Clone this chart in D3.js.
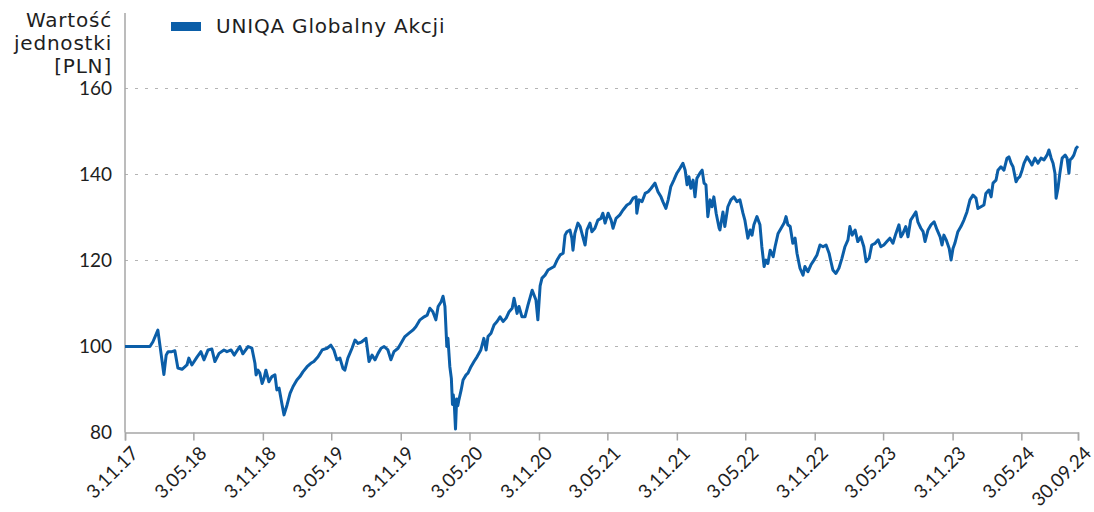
<!DOCTYPE html>
<html><head><meta charset="utf-8">
<script src="https://cdn.jsdelivr.net/npm/d3@7"></script>
<style>
html,body{margin:0;padding:0;background:#fff;}
text{font-family:Lato, "Noto Sans", sans-serif;fill:#1e1e1e;}
.word{font-family:"DejaVu Sans", sans-serif;letter-spacing:0.8px;}
</style></head>
<body><svg id="chart" width="1094" height="512"></svg>
<script>
const seriesName = "UNIQA Globalny Akcji";
const yTitle = ["Wartość", "jednostki", "[PLN]"];
const yTicks = [80, 100, 120, 140, 160];
const xTickDates = ["2017-11-03","2018-05-03","2018-11-03","2019-05-03","2019-11-03","2020-05-03","2020-11-03","2021-05-03","2021-11-03","2022-05-03","2022-11-03","2023-05-03","2023-11-03","2024-05-03","2024-09-30"];
const dates = [
"2017-11-03","2018-01-08","2018-01-16","2018-01-29","2018-02-14","2018-02-20","2018-02-25","2018-03-07","2018-03-15","2018-03-23",
"2018-04-03","2018-04-16","2018-04-21","2018-04-29","2018-05-13","2018-05-23","2018-05-31","2018-06-11","2018-06-21","2018-06-29",
"2018-07-10","2018-07-23","2018-07-31","2018-08-11","2018-08-19","2018-09-03","2018-09-11","2018-09-25","2018-10-05","2018-10-13",
"2018-10-16","2018-10-21","2018-10-26","2018-11-01","2018-11-06","2018-11-11","2018-11-19","2018-11-27","2018-12-05","2018-12-10",
"2018-12-16","2018-12-24","2018-12-29","2019-01-06","2019-01-14","2019-01-22","2019-02-01","2019-02-09","2019-02-17","2019-02-28",
"2019-03-10","2019-03-18","2019-03-29","2019-04-09","2019-04-22","2019-05-02","2019-05-10","2019-05-18","2019-05-26","2019-06-03",
"2019-06-08","2019-06-16","2019-06-27","2019-07-05","2019-07-13","2019-07-23","2019-08-03","2019-08-11","2019-08-19","2019-08-27",
"2019-09-04","2019-09-12","2019-09-20","2019-09-30","2019-10-08","2019-10-16","2019-10-27","2019-11-06","2019-11-14","2019-11-25",
"2019-12-05","2019-12-13","2019-12-24","2020-01-04","2020-01-12","2020-01-19","2020-01-27","2020-02-04","2020-02-10","2020-02-18",
"2020-02-23","2020-02-28","2020-03-04","2020-03-07","2020-03-12","2020-03-16","2020-03-19","2020-03-21","2020-03-24","2020-03-27",
"2020-03-30","2020-04-02","2020-04-05","2020-04-11","2020-04-16","2020-04-24","2020-04-29","2020-05-07","2020-05-15","2020-05-23",
"2020-06-02","2020-06-10","2020-06-16","2020-06-21","2020-06-29","2020-07-07","2020-07-15","2020-07-23","2020-07-31","2020-08-08",
"2020-08-16","2020-08-24","2020-08-29","2020-09-06","2020-09-11","2020-09-19","2020-09-27","2020-10-05","2020-10-16","2020-10-26",
"2020-10-31","2020-11-06","2020-11-11","2020-11-19","2020-11-27","2020-12-05","2020-12-13","2020-12-21","2020-12-29","2021-01-06",
"2021-01-11","2021-01-16","2021-01-24","2021-01-29","2021-02-01","2021-02-06","2021-02-14","2021-02-20","2021-02-28","2021-03-05",
"2021-03-10","2021-03-18","2021-03-23","2021-03-31","2021-04-08","2021-04-16","2021-04-21","2021-04-27","2021-05-05","2021-05-13",
"2021-05-18","2021-05-26","2021-06-05","2021-06-13","2021-06-24","2021-07-02","2021-07-10","2021-07-18","2021-07-20","2021-07-26",
"2021-08-03","2021-08-11","2021-08-19","2021-08-27","2021-09-06","2021-09-14","2021-09-22","2021-09-27","2021-10-05","2021-10-11",
"2021-10-18","2021-10-26","2021-11-03","2021-11-11","2021-11-19","2021-11-25","2021-11-30","2021-12-05","2021-12-10","2021-12-16",
"2021-12-21","2021-12-26","2022-01-03","2022-01-09","2022-01-14","2022-01-19","2022-01-24","2022-01-30","2022-02-04","2022-02-09",
"2022-02-15","2022-02-23","2022-02-25","2022-03-05","2022-03-10","2022-03-18","2022-03-26","2022-04-03","2022-04-11","2022-04-19",
"2022-04-27","2022-05-02","2022-05-10","2022-05-16","2022-05-21","2022-05-26","2022-06-03","2022-06-11","2022-06-16","2022-06-22",
"2022-06-27","2022-07-02","2022-07-08","2022-07-16","2022-07-21","2022-07-29","2022-08-06","2022-08-14","2022-08-19","2022-08-24",
"2022-08-30","2022-09-06","2022-09-12","2022-09-17","2022-09-25","2022-10-03","2022-10-08","2022-10-16","2022-10-24","2022-11-01",
"2022-11-09","2022-11-17","2022-11-25","2022-12-03","2022-12-11","2022-12-16","2022-12-21","2022-12-29","2023-01-06","2023-01-14",
"2023-01-22","2023-01-30","2023-02-04","2023-02-10","2023-02-18","2023-02-25","2023-03-05","2023-03-13","2023-03-19","2023-03-27",
"2023-04-03","2023-04-12","2023-04-20","2023-04-27","2023-05-05","2023-05-13","2023-05-21","2023-05-29","2023-06-06","2023-06-14",
"2023-06-19","2023-06-24","2023-07-02","2023-07-08","2023-07-15","2023-07-21","2023-07-29","2023-08-03","2023-08-11","2023-08-17",
"2023-08-22","2023-08-30","2023-09-07","2023-09-15","2023-09-23","2023-10-01","2023-10-06","2023-10-11","2023-10-17","2023-10-25",
"2023-10-30","2023-11-04","2023-11-09","2023-11-17","2023-11-25","2023-12-03","2023-12-11","2023-12-19","2023-12-27","2024-01-04",
"2024-01-09","2024-01-17","2024-01-25","2024-01-30","2024-02-07","2024-02-13","2024-02-18","2024-02-26","2024-03-02","2024-03-10",
"2024-03-18","2024-03-26","2024-03-31","2024-04-06","2024-04-11","2024-04-19","2024-04-24","2024-04-29","2024-05-05","2024-05-10",
"2024-05-18","2024-05-26","2024-05-31","2024-06-08","2024-06-16","2024-06-24","2024-07-02","2024-07-10","2024-07-15","2024-07-21",
"2024-07-26","2024-07-31","2024-08-03","2024-08-08","2024-08-13","2024-08-19","2024-08-27","2024-09-01","2024-09-06","2024-09-09",
"2024-09-14","2024-09-19","2024-09-25","2024-09-30"
];
const values = [
100.0,100.0,101.1,103.8,93.5,98.0,98.8,98.8,99.0,95.0,
94.7,95.7,97.3,95.7,97.6,98.8,96.9,99.2,99.4,96.5,
98.4,99.2,98.8,99.2,98.0,100.0,98.3,100.0,99.6,96.1,
93.4,94.5,93.8,91.4,92.6,94.5,91.8,93.0,93.4,89.9,
90.3,86.4,84.1,86.4,89.1,90.7,92.2,93.0,94.1,95.3,
96.1,96.5,97.6,99.2,99.6,100.3,99.2,96.9,97.3,94.9,
94.5,97.3,99.6,101.5,100.7,101.1,101.9,96.5,98.0,96.9,
98.4,99.6,100.0,99.2,96.9,98.8,99.6,101.1,102.3,103.1,
103.8,104.6,106.2,106.9,107.3,108.9,108.1,106.2,109.3,110.4,
111.7,109.3,100.0,101.9,95.3,92.6,86.5,88.8,86.2,80.8,
87.8,86.2,87.6,89.9,92.2,93.4,93.8,95.3,96.5,97.6,
99.2,101.9,99.2,102.3,103.1,105.0,105.8,106.9,105.8,106.6,
108.1,108.9,111.2,107.7,109.3,106.9,106.9,109.7,113.1,110.8,
106.2,114.1,115.9,116.6,117.8,118.2,118.6,120.1,121.3,121.7,
125.9,126.7,127.1,125.2,122.4,126.3,128.7,127.9,125.2,123.6,
127.1,128.7,126.7,127.5,129.4,129.8,131.0,128.7,131.0,129.4,
127.5,129.8,130.6,131.7,132.9,133.3,134.5,134.8,131.0,134.1,
133.7,135.6,136.0,136.8,138.0,136.0,134.8,133.7,132.1,134.1,
137.2,138.7,140.3,141.4,142.6,141.0,137.6,139.5,136.8,138.7,
134.8,139.1,140.3,141.0,138.0,137.6,130.2,134.1,132.5,134.8,
131.0,127.5,127.1,131.3,127.9,132.5,134.1,134.8,133.7,134.1,
131.0,129.4,125.2,127.1,125.9,128.3,130.2,128.3,123.2,118.6,
120.1,119.3,122.4,120.9,123.2,126.3,127.5,128.7,130.2,128.3,
127.9,124.0,125.2,121.7,118.2,116.6,118.6,117.4,119.0,120.1,
121.3,123.6,123.2,123.6,121.7,119.7,117.8,117.0,118.2,120.5,
123.2,124.8,127.9,125.9,127.1,124.4,125.5,123.2,119.7,120.5,
123.6,124.0,124.8,123.2,123.6,124.4,125.2,124.0,126.3,128.3,
125.5,126.2,127.9,125.5,129.4,130.2,131.3,129.0,127.5,126.7,
124.4,127.1,128.3,129.0,127.1,125.5,123.6,125.9,124.8,122.8,
120.1,122.8,124.0,126.7,127.9,129.4,131.3,134.1,135.2,134.5,
132.1,132.5,132.9,135.6,136.4,134.8,138.0,138.7,141.0,141.8,
141.0,143.8,144.1,142.6,141.8,138.3,139.1,139.5,141.0,142.6,
144.1,143.0,142.2,143.8,142.6,143.8,143.4,144.5,145.7,143.8,
142.6,140.3,134.5,136.8,140.3,143.8,144.5,143.8,140.3,143.4,
143.8,144.5,146.1,146.6
];
const lineColor = "#0b5ea8";

const parse = d3.timeParse("%Y-%m-%d");
const n = Math.min(dates.length, values.length);
const data = dates.slice(0, n).map((d, i) => ({ date: parse(d), value: values[i] }));

const svg = d3.select("#chart");
const M = { left: 125, right: 1078, top: 88.5, bottom: 432.5 };

const x = d3.scaleTime()
  .domain([parse("2017-11-03"), parse("2024-09-30")])
  .range([M.left, M.right]);
const y = d3.scaleLinear().domain([80, 160]).range([M.bottom, M.top]);

// gridlines
svg.append("g").selectAll("line").data(yTicks.filter(t => t > 80)).join("line")
  .attr("x1", M.left).attr("x2", M.right)
  .attr("y1", d => y(d)).attr("y2", d => y(d))
  .attr("stroke", "#b4b4b4").attr("stroke-width", 1.2).attr("stroke-dasharray", "3,7");

// y axis
const yAxis = d3.axisLeft(y).tickValues(yTicks).tickSize(0).tickPadding(13);
const gy = svg.append("g").attr("transform", `translate(${M.left},0)`).call(yAxis);
gy.select(".domain").remove();
gy.selectAll("text").attr("font-size", 19).attr("fill", "#1e1e1e").style("font-family", 'Lato, "Noto Sans", sans-serif');
svg.append("line").attr("x1", M.left).attr("x2", M.left).attr("y1", 13).attr("y2", M.bottom)
  .attr("stroke", "#a6a6a6").attr("stroke-width", 1.5);

// x axis
const fmt = d => d3.timeFormat("%-d.%m.%y")(d);
const xAxis = d3.axisBottom(x).tickValues(xTickDates.map(parse)).tickSize(8).tickFormat(fmt);
const gx = svg.append("g").attr("transform", `translate(0,${M.bottom})`).call(xAxis);
gx.select(".domain").attr("stroke", "#a6a6a6").attr("stroke-width", 1.5);
gx.selectAll(".tick line").attr("stroke", "#a6a6a6").attr("stroke-width", 1.5);
gx.selectAll("text")
  .attr("font-size", 19).attr("fill", "#1e1e1e").style("font-family", 'Lato, "Noto Sans", sans-serif')
  .attr("text-anchor", "end").attr("x", 0).attr("y", 0).attr("dy", 0)
  .attr("transform", "translate(14,22) rotate(-45)");

// line
svg.append("path").datum(data)
  .attr("fill", "none").attr("stroke", lineColor).attr("stroke-width", 3)
  .attr("stroke-linejoin", "round")
  .attr("d", d3.line().x(d => x(d.date)).y(d => y(d.value)));

// y title
const t = svg.append("text").attr("class", "word").attr("text-anchor", "end").attr("font-size", 20);
yTitle.forEach((s, i) => t.append("tspan").attr("x", 112).attr("y", 27 + i * 22.8).text(s));

// legend
svg.append("rect").attr("x", 171).attr("y", 22).attr("width", 30).attr("height", 9).attr("fill", lineColor);
svg.append("text").attr("class", "word").attr("x", 216).attr("y", 33).attr("font-size", 20).text(seriesName);
</script></body></html>
